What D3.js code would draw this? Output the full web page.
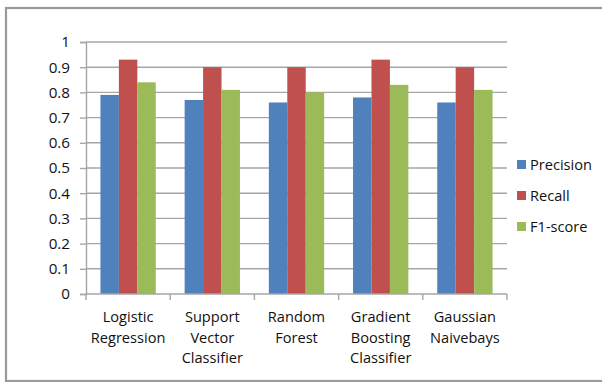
<!DOCTYPE html>
<html>
<head>
<meta charset="utf-8">
<script src="https://cdn.jsdelivr.net/npm/d3@7"></script>
<style>
  html, body { margin: 0; padding: 0; background: #fff; }
  svg { display: block; }
  text { font-family: "Open Sans", Lato, sans-serif; fill: #111; }
</style>
</head>
<body>
<svg id="chart" width="602" height="382"></svg>
<script>
// Classifier comparison data
const categories = ["Logistic Regression", "Support Vector Classifier", "Random Forest", "Gradient Boosting Classifier", "Gaussian Naivebays"];
const seriesNames = ["Precision", "Recall", "F1-score"];
const precision = [0.79, 0.77, 0.76, 0.78, 0.76];
const recall = [0.93, 0.90, 0.90, 0.93, 0.90];
const f1score = [0.84, 0.81, 0.80, 0.83, 0.81];
const yTicks = [0, 0.1, 0.2, 0.3, 0.4, 0.5, 0.6, 0.7, 0.8, 0.9, 1];
const colors = ["#4F81BD", "#C0504D", "#9BBB59"];

const seriesValues = [precision, recall, f1score];

const svg = d3.select("#chart");
const plot = { left: 86, right: 507, top: 42, bottom: 294 };
const fontSize = 14.6;

// Chart frame
svg.append("rect")
  .attr("x", 6).attr("y", 8)
  .attr("width", 604).attr("height", 373)
  .attr("fill", "none")
  .attr("stroke", "#9a9a9a")
  .attr("stroke-width", 2.2);

const x0 = d3.scaleBand()
  .domain(categories)
  .range([plot.left, plot.right])
  .paddingInner(0.343)
  .paddingOuter(0.1715);

const x1 = d3.scaleBand()
  .domain(seriesNames)
  .range([0, x0.bandwidth()]);

const y = d3.scaleLinear().domain([0, 1]).range([plot.bottom, plot.top]);

// Horizontal gridlines
svg.append("g")
  .selectAll("line")
  .data(yTicks.filter(d => d > 0))
  .join("line")
  .attr("x1", plot.left).attr("x2", plot.right)
  .attr("y1", d => y(d)).attr("y2", d => y(d))
  .attr("stroke", "#a6a6a6")
  .attr("stroke-width", 1.4);

// Bars
const groups = svg.append("g")
  .selectAll("g")
  .data(categories)
  .join("g")
  .attr("transform", d => `translate(${x0(d)},0)`);

groups.selectAll("rect")
  .data((d, i) => seriesNames.map((s, j) => ({ s, v: seriesValues[j][i], j })))
  .join("rect")
  .attr("x", d => x1(d.s))
  .attr("y", d => y(d.v))
  .attr("width", x1.bandwidth())
  .attr("height", d => y(0) - y(d.v))
  .attr("fill", d => colors[d.j]);

// Y axis
const yAxis = svg.append("g")
  .attr("transform", `translate(${plot.left},0)`)
  .call(d3.axisLeft(y).tickValues(yTicks).tickFormat(d3.format("~g")).tickSize(6).tickPadding(10));
yAxis.select(".domain").attr("stroke", "#a6a6a6").attr("stroke-width", 1.4);
yAxis.selectAll(".tick line").attr("stroke", "#a6a6a6").attr("stroke-width", 1.4);
yAxis.selectAll(".tick text")
  .style("font-family", "\"Open Sans\", Lato, sans-serif")
  .attr("font-size", fontSize + 0.6).attr("fill", "#111");

// X axis line with ticks at category boundaries
const boundaries = d3.range(categories.length + 1).map(i => plot.left + i * x0.step());
svg.append("line")
  .attr("x1", plot.left).attr("x2", plot.right)
  .attr("y1", plot.bottom).attr("y2", plot.bottom)
  .attr("stroke", "#a6a6a6").attr("stroke-width", 1.4);
svg.append("g")
  .selectAll("line")
  .data(boundaries)
  .join("line")
  .attr("x1", d => d).attr("x2", d => d)
  .attr("y1", plot.bottom).attr("y2", plot.bottom + 6)
  .attr("stroke", "#a6a6a6").attr("stroke-width", 1.4);

// Category labels, one word per line
svg.append("g")
  .selectAll("text")
  .data(categories)
  .join("text")
  .attr("text-anchor", "middle")
  .attr("font-size", fontSize)
  .each(function (d) {
    const cx = x0(d) + x0.bandwidth() / 2;
    d3.select(this).selectAll("tspan")
      .data(d.split(" "))
      .join("tspan")
      .attr("x", cx)
      .attr("y", (w, i) => 322 + i * 20.5)
      .text(w => w);
  });

// Legend
const legend = svg.append("g")
  .selectAll("g")
  .data(seriesNames)
  .join("g")
  .attr("transform", (d, i) => `translate(517,${160 + i * 31})`);
legend.append("rect")
  .attr("width", 9).attr("height", 9)
  .attr("fill", (d, i) => colors[i]);
legend.append("text")
  .attr("x", 13).attr("y", 10)
  .attr("font-size", fontSize)
  .text(d => d);
</script>
</body>
</html>
